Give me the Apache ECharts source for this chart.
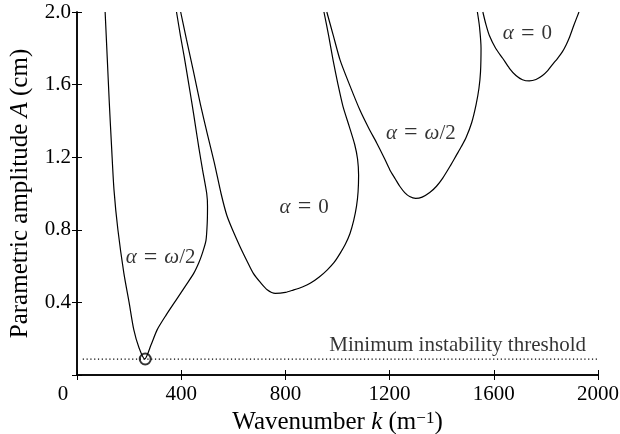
<!DOCTYPE html>
<html>
<head>
<meta charset="utf-8">
<script src="https://cdn.jsdelivr.net/npm/echarts@6/dist/echarts.min.js"></script>
<style>
  html, body { margin: 0; padding: 0; background: #fff; }
  #chart { width: 620px; height: 434px; }
</style>
</head>
<body>
<div id="chart"></div>
<script>
// instability tongues, [wavenumber k, amplitude A]
const band1 = [[108, 2.0], [116, 1.75], [124, 1.5], [133, 1.25], [142, 1.02], [157, 0.8], [180, 0.56],
  [200, 0.4], [218, 0.25], [238, 0.15], [260, 0.088], [284, 0.165], [308, 0.25], [342, 0.33], [379, 0.41],
  [416, 0.49], [448, 0.56], [468, 0.62], [481, 0.67], [495, 0.74], [500, 0.84], [501, 0.93], [498, 1.0],
  [482, 1.13], [468, 1.25], [455, 1.37], [442, 1.49], [427, 1.62], [412, 1.75], [397, 1.87], [382, 2.0]];
const band2 = [[398, 2.0], [420, 1.85], [446, 1.68], [474, 1.49], [500, 1.33], [527, 1.17], [553, 1.0],
  [575, 0.88], [597, 0.8], [625, 0.71], [652, 0.63], [677, 0.56], [704, 0.51], [730, 0.47], [761, 0.45],
  [800, 0.455], [830, 0.468], [865, 0.485], [895, 0.505], [930, 0.54], [960, 0.578], [987, 0.62],
  [1010, 0.67], [1030, 0.72], [1048, 0.78], [1062, 0.85], [1073, 0.93], [1079, 1.01], [1081, 1.1],
  [1077, 1.19], [1066, 1.27], [1045, 1.37], [1021, 1.48], [1002, 1.6], [983, 1.735], [966, 1.87], [948, 2.0]];
const band3 = [[959, 2.0], [984, 1.87], [1010, 1.735], [1046, 1.6], [1086, 1.46], [1120, 1.36], [1150, 1.28],
  [1178, 1.2], [1201, 1.13], [1222, 1.08], [1239, 1.04], [1258, 1.005], [1277, 0.983], [1300, 0.973],
  [1325, 0.98], [1354, 1.005], [1380, 1.04], [1404, 1.085], [1432, 1.15], [1456, 1.21], [1476, 1.26],
  [1494, 1.31], [1515, 1.39], [1532, 1.49], [1543, 1.58], [1549, 1.67], [1551, 1.8], [1545, 1.92], [1537, 2.0]];
const band4 = [[1558, 2.0], [1570, 1.93], [1583, 1.87], [1607, 1.8], [1634, 1.745], [1660, 1.69], [1685, 1.65],
  [1710, 1.627], [1736, 1.62], [1762, 1.628], [1787, 1.65], [1807, 1.677], [1825, 1.71], [1845, 1.745],
  [1863, 1.78], [1878, 1.82], [1889, 1.855], [1908, 1.93], [1927, 2.0]];

const thresholdK = [22, 2000];
const thresholdA = 0.088;
const minimumPoint = [262, 0.088];

const bandLabels = ['{g|α}\u2004{e|=}\u2004{g|ω}/2', '{g|α}\u2004{e|=}\u20040', '{g|α}\u2004{e|=}\u2004{g|ω}/2', '{g|α}\u2004{e|=}\u20040'];
const bandLabelAt = [[321, 0.645], [872, 0.925], [1320, 1.333], [1729, 1.88]];
const thresholdLabel = 'Minimum instability threshold';

const font = 'Liberation Serif, Times New Roman, serif';
const chart = echarts.init(document.getElementById('chart'));

const curve = (data) => ({
  type: 'line', data, symbol: 'none', smooth: 0.25, animation: false,
  lineStyle: { color: '#000', width: 1.2 }
});

const tickStyle = { show: true, inside: true, length: 5, lineStyle: { color: '#000', width: 1 } };
const lineAxis = { show: true, lineStyle: { color: '#000', width: 1.5 } };

chart.setOption({
  animation: false,
  grid: { left: 77, right: 22, top: 12, bottom: 59, containLabel: false, outerBoundsMode: 'none' },
  xAxis: [{
    type: 'value', min: 0, max: 2000, interval: 400,
    axisLine: lineAxis, axisTick: tickStyle, splitLine: { show: false },
    axisLabel: {
      color: '#000', fontFamily: font, fontSize: 21, margin: 9,
      formatter: (v) => (v === 0 ? '{z|0}' : String(v)),
      rich: { z: { fontFamily: font, fontSize: 21, color: '#000', padding: [0, 28, 0, 0] } }
    },
    name: '{n|Wavenumber }{i|k}{n| (m}{s|−1}{n|)}',
    nameLocation: 'middle', nameGap: 32,
    nameTextStyle: {
      rich: {
        n: { fontFamily: font, fontSize: 25, color: '#000' },
        i: { fontFamily: font, fontSize: 25, fontStyle: 'italic', color: '#000' },
        s: { fontFamily: font, fontSize: 17, color: '#000', verticalAlign: 'top', padding: [0, 0, 9, 0] }
      }
    }
  }, {
    type: 'value', position: 'top', min: 0, max: 2000, interval: 400,
    axisLine: lineAxis, axisTick: tickStyle, axisLabel: { show: false }, splitLine: { show: false }
  }],
  yAxis: [{
    type: 'value', min: 0, max: 2.0, interval: 0.4,
    axisLine: lineAxis, axisTick: tickStyle, splitLine: { show: false },
    axisLabel: {
      color: '#000', fontFamily: font, fontSize: 21, margin: 6,
      formatter: (v) => (v === 0 ? '' : v.toFixed(1))
    },
    name: '{n|Parametric amplitude }{i|A}{n| (cm)}',
    nameLocation: 'middle', nameGap: 44,
    nameTextStyle: {
      rich: {
        n: { fontFamily: font, fontSize: 25, color: '#000' },
        i: { fontFamily: font, fontSize: 25, fontStyle: 'italic', color: '#000' }
      }
    }
  }, {
    type: 'value', position: 'right', min: 0, max: 2.0, interval: 0.4,
    axisLine: lineAxis, axisTick: tickStyle, axisLabel: { show: false }, splitLine: { show: false }
  }],
  series: [
    curve(band1), curve(band2), curve(band3), curve(band4),
    {
      type: 'line', symbol: 'none', silent: true,
      data: thresholdK.map((k) => [k, thresholdA]),
      lineStyle: { color: '#000', width: 1.2, type: [1.2, 2.6] }
    },
    {
      type: 'scatter', data: [minimumPoint], symbol: 'emptyCircle', symbolSize: 11,
      itemStyle: { color: '#000', borderColor: '#000', borderWidth: 1 }
    },
    {
      type: 'scatter', symbolSize: 0, silent: true,
      data: bandLabelAt.map((p, i) => ({ value: p, name: bandLabels[i] })),
      label: {
        show: true, position: 'inside', formatter: (p) => p.name,
        color: '#000', fontFamily: font, fontSize: 21,
        rich: {
          g: { fontFamily: font, fontSize: 21, fontStyle: 'italic', color: '#000' },
          e: { fontFamily: font, fontSize: 24, color: '#000' }
        }
      }
    },
    {
      type: 'scatter', symbolSize: 0, silent: true,
      data: [{ value: [1954, 0.16], name: thresholdLabel }],
      label: {
        show: true, position: 'left', distance: 0, formatter: (p) => p.name,
        color: '#000', fontFamily: font, fontSize: 21
      }
    }
  ]
});
</script>
</body>
</html>
